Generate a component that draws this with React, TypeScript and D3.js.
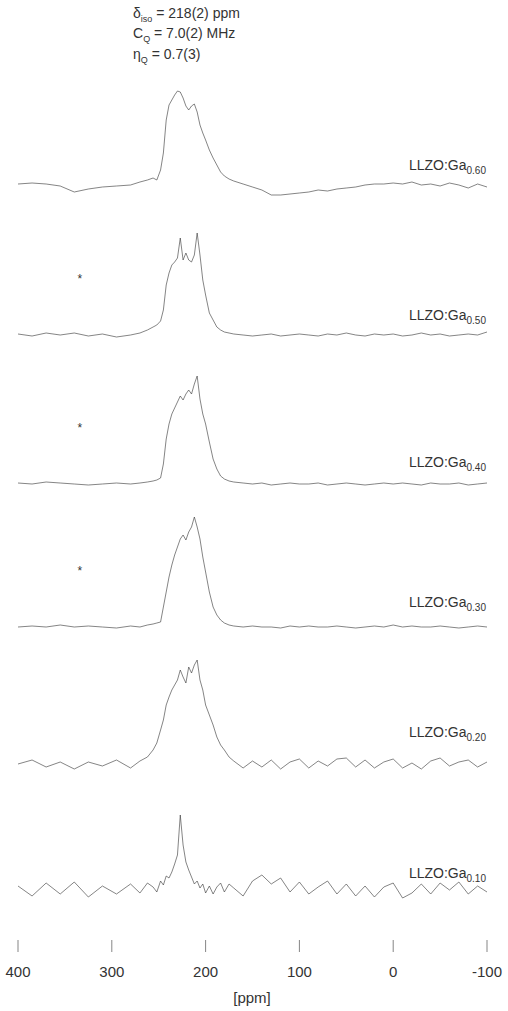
import React from "react";
import * as d3 from "d3";

// chemical shift grid (ppm), shared by all spectra
const ppm = [
  400, 385, 370, 355, 340, 325, 310, 295, 280, 270, 262, 256, 252,
  248, 245, 242, 239, 236, 233, 230, 227, 224, 221, 218, 215, 212, 209, 206, 203, 200,
  196, 192, 188, 184, 180, 175, 170,
  160, 150, 140, 130, 120, 110, 100, 90, 80, 70, 60, 50, 40, 30, 20, 10, 0,
  -10, -20, -30, -40, -50, -60, -70, -80, -90, -100,
];

// intensities (a.u.), top spectrum first
const spec1 = [
  1, 2, 1, -1, -7, -4, -2, -1, 0, 3, 5, 7, 5,
  15, 32, 65, 80, 85, 90, 94, 93, 87, 79, 75, 79, 81, 73, 60, 52, 45,
  35, 27, 20, 13, 9, 6, 4,
  1, -2, -5, -10, -10, -9, -8, -7, -5, -6, -4, -3, -2, 0, 1, 1, 2, 1, 3, 0, 1, -1, 2, 0, -3, 1, -2,
];
const spec2 = [
  1, -1, 2, 0, 2, -1, 1, -2, 0, 2, 5, 8, 10,
  14, 25, 50, 62, 70, 73, 77, 97, 75, 82, 75, 73, 80, 102, 80, 55, 40,
  22, 15, 8, 5, 3, 2, 1,
  0, -1, 0, 1, -1, 0, 1, 0, -1, 1, 0, 2, 0, -1, 1, 0, 1, -1, 0, 2, 0, 1, -1, 0, 1, 0, 3,
];
const spec3 = [
  1, 0, 2, 1, 0, -1, 0, 1, 0, 1, 2, 3, 4,
  6, 20, 45, 60, 70, 76, 82, 88, 84, 90, 94, 90, 100, 108, 85, 70, 60,
  42, 25, 15, 8, 5, 3, 2,
  1, 0, 1, -1, 0, 1, 0, 0, 1, -1, 0, 1, 0, -1, 0, 1, 0, 1, 0, -1, 1, 0, 0, 1, -1, 0, 1,
];
const spec4 = [
  0, 1, 0, 2, 0, 1, 0, -1, 1, 0, 2, 3, 4,
  5, 20, 35, 50, 62, 72, 80, 88, 92, 87, 95, 100, 110, 100, 88, 70, 55,
  35, 20, 12, 7, 4, 2, 1,
  0, 1, 0, 0, -1, 1, 0, 1, 0, 0, 1, 0, -1, 0, 1, 0, 2, 0, 1, 0, 0, 1, 0, -1, 0, 1, 0,
];
const spec5 = [
  1, 5, -2, 3, -4, 3, -1, 5, -3, 4, 8, 15, 22,
  35, 45, 60, 68, 75, 80, 85, 95, 88, 82, 98, 92, 100, 105, 85, 75, 60,
  50, 40, 28, 20, 15, 8, 4,
  -3, 4, -2, 5, -4, 3, 6, -3, 4, -1, 6, 7, -2, 5, -3, 3, 6, -3, 2, -4, 4, 7, -1, 3, 5, -2, 3,
];
const spec6 = [
  4, -6, 7, -4, 8, -7, 4, -4, 6, -3, 7, 3, -2,
  9, 5, 14, 12, 18, 26, 35, 75, 45, 28, 20, 13, 6, 9, 2, 6, -3,
  4, -4, 3, 7, -2, 6, 2,
  -6, 9, 15, 6, 12, -2, 8, -4, 3, 9, -4, 6, -6, 4, -7, 3, 7, -8, -3, 6, -4, 7, 0, 8, -4, 4, -2,
];

const spectra = [spec1, spec2, spec3, spec4, spec5, spec6];
const sampleSubs = ["0.60", "0.50", "0.40", "0.30", "0.20", "0.10"];
const hasSideband = [false, true, true, true, false, false];
const xTicks = [400, 300, 200, 100, 0, -100];
const sidebandPpm = 334;

// layout
const W = 508;
const H = 1011;
const baselines = [185, 335, 484, 627, 765, 890];
const labelY = [170, 320, 467, 607, 737, 878];
const font = "'Liberation Sans', Arial, sans-serif";
const ink = "#333";

export default function App() {
  const x = d3.scaleLinear().domain([400, -100]).range([18, 487]);

  return (
    <div style={{ position: "absolute", left: 0, top: 0 }}>
      <svg width={W} height={H} style={{ display: "block", background: "#fff" }} fontFamily={font}>
        <g fontSize={14} fill={ink}>
          <text x={133} y={18}>
            δ<tspan fontSize={9} dy={4}>iso</tspan>
            <tspan dy={-4}> = 218(2) ppm</tspan>
          </text>
          <text x={133} y={38}>
            C<tspan fontSize={9} dy={4}>Q</tspan>
            <tspan dy={-4}> = 7.0(2) MHz</tspan>
          </text>
          <text x={133} y={59}>
            η<tspan fontSize={9} dy={4}>Q</tspan>
            <tspan dy={-4}> = 0.7(3)</tspan>
          </text>
        </g>

        {spectra.map((s, i) => {
          const y = d3
            .scaleLinear()
            .domain([0, 100])
            .range([baselines[i], baselines[i] - 100]);
          const line = d3
            .line<number>()
            .x((_, j) => x(ppm[j]))
            .y((d) => y(d));
          return (
            <g key={i}>
              <path d={line(s) || ""} fill="none" stroke={ink} strokeWidth={0.6} />
              <text x={486} y={labelY[i]} textAnchor="end" fontSize={14} fill={ink}>
                LLZO:Ga<tspan fontSize={10} dy={4}>{sampleSubs[i]}</tspan>
              </text>
              {hasSideband[i] && (
                <text x={x(sidebandPpm)} y={y(52)} textAnchor="middle" fontSize={12} fill={ink}>
                  *
                </text>
              )}
            </g>
          );
        })}

        <g>
          {xTicks.map((t) => (
            <g key={t} transform={`translate(${x(t)},0)`}>
              <line y1={940} y2={952} stroke={ink} strokeWidth={0.6} />
              <text y={977} textAnchor="middle" fontSize={15} fill={ink}>
                {t}
              </text>
            </g>
          ))}
          <text x={252} y={1003} textAnchor="middle" fontSize={15} fill={ink}>
            [ppm]
          </text>
        </g>
      </svg>
    </div>
  );
}
